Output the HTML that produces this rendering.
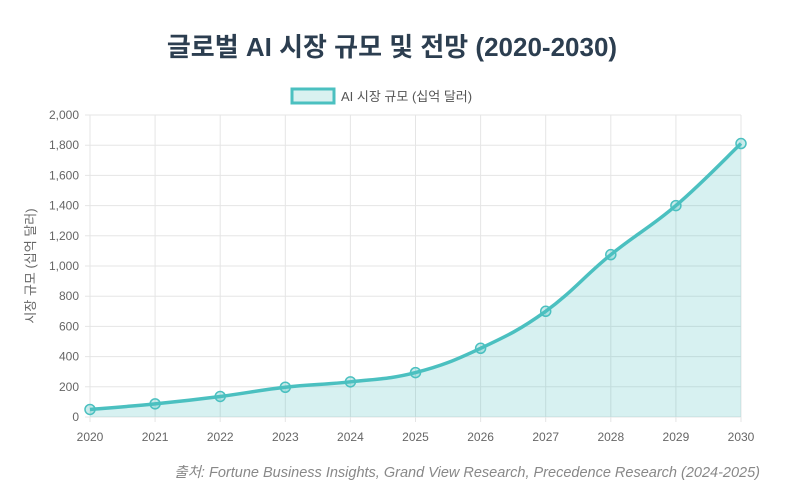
<!DOCTYPE html><html><head><meta charset="utf-8"><style>
body{margin:0;background:#fff;width:785px;height:491px;overflow:hidden;font-family:"Liberation Sans","Noto Sans CJK KR",sans-serif}
</style></head><body>
<svg id="s" width="785" height="491" xmlns="http://www.w3.org/2000/svg" font-family="Liberation Sans, Noto Sans CJK KR, sans-serif">
<text x="392" y="56" text-anchor="middle" font-size="26" font-weight="bold" fill="#2c3e50">글로벌 AI 시장 규모 및 전망 (2020-2030)</text>
<rect x="292" y="89" width="42" height="14" fill="#d9f1f0" stroke="#4bc0c0" stroke-width="3"/>
<text x="341" y="101" font-size="13" fill="#555">AI 시장 규모 (십억 달러)</text>
<g id="grid" stroke="#e5e5e5" stroke-width="1"></g>
<g id="lab" font-size="12" fill="#666"></g>
<text transform="translate(35,266) rotate(-90)" text-anchor="middle" font-size="13" fill="#666">시장 규모 (십억 달러)</text>
<path id="area" fill="rgba(75,192,192,0.22)"/>
<path id="line" fill="none" stroke="#4bc0c0" stroke-width="3.5"/>
<g id="pts"></g>
<text x="760" y="477" text-anchor="end" font-size="14.5" font-style="italic" fill="#888">출처: Fortune Business Insights, Grand View Research, Precedence Research (2024-2025)</text>
</svg>
<script>
var NS="http://www.w3.org/2000/svg";
function el(t,a,p,txt){var e=document.createElementNS(NS,t);for(var k in a)e.setAttribute(k,a[k]);if(txt)e.textContent=txt;document.getElementById(p).appendChild(e);}
var x0=90,dx=65.1,y0=417,k=0.151;
for(var i=0;i<=10;i++){var x=x0+i*dx;el("line",{x1:x,x2:x,y1:115,y2:422},"grid");el("text",{x:x,y:441,"text-anchor":"middle"},"lab",String(2020+i));}
for(var v=0;v<=2000;v+=200){var y=y0-v*k;el("line",{x1:85,x2:741,y1:y,y2:y},"grid");el("text",{x:79,y:y+4,"text-anchor":"end"},"lab",v.toLocaleString("en-US"));}
var d=[50,87,136,197,233,294,455,700,1075,1400,1811];
var P=d.map(function(v,i){return [x0+i*dx,y0-v*k]});
var s="M"+P[0][0]+","+P[0][1],t=0.2;
for(var i=0;i<P.length-1;i++){var a=P[i>0?i-1:i],b=P[i],c=P[i+1],e=P[i+2<P.length?i+2:i+1];
s+=" C"+(b[0]+(c[0]-a[0])*t)+","+(b[1]+(c[1]-a[1])*t)+" "+(c[0]-(e[0]-b[0])*t)+","+(c[1]-(e[1]-b[1])*t)+" "+c[0]+","+c[1];}
document.getElementById("line").setAttribute("d",s);
document.getElementById("area").setAttribute("d",s+" L"+P[10][0]+","+y0+" L"+P[0][0]+","+y0+" Z");
P.forEach(function(p){el("circle",{cx:p[0],cy:p[1],r:5,fill:"rgba(75,192,192,0.3)",stroke:"#4bc0c0","stroke-width":1.5},"pts");});
</script>
</body></html>
